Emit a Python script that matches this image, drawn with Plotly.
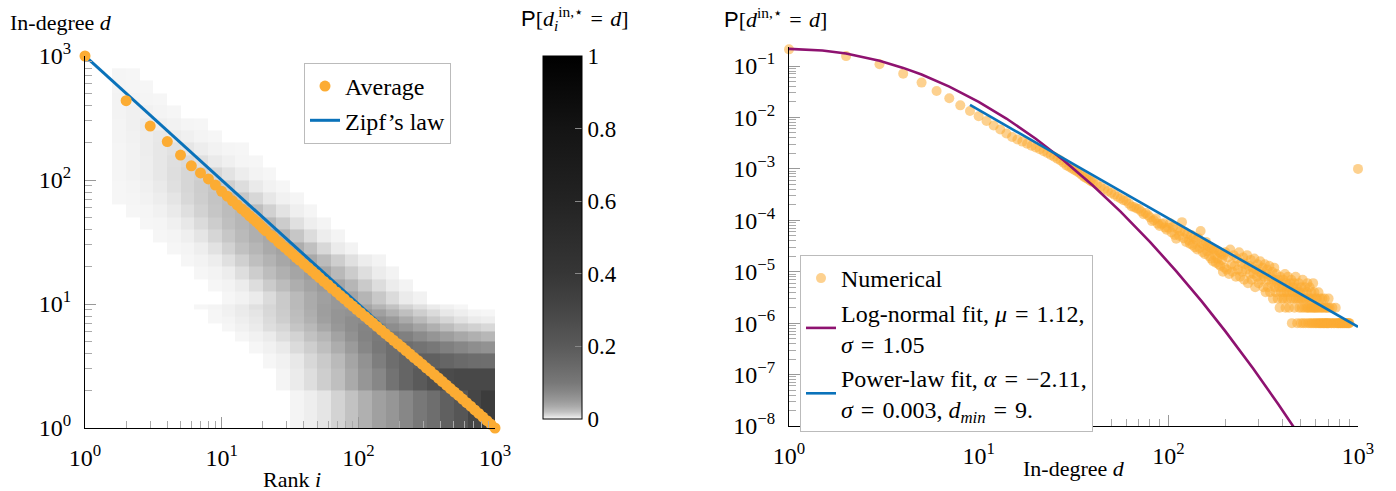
import plotly.graph_objects as go

# ================= LEFT PANEL DATA =================
avg_rank = [1, 2, 3, 4, 5, 6, 7, 8, 9, 10, 11, 12, 13, 14, 15, 16, 17, 18, 19,
            20, 21, 23, 24, 26, 27, 29, 31, 33, 35, 37, 40, 43, 46, 49, 52, 56, 60, 64,
            69, 74, 79, 85, 91, 97, 104, 112, 120, 128, 137, 147, 158, 169, 181, 194,
            208, 223, 239, 256, 274, 293, 314, 336, 360, 385, 412, 441, 472, 505, 541,
            579, 620, 664, 711, 761, 815, 873, 935, 1000]
avg_degree = [1000, 436, 272, 204, 159, 130, 114, 102, 91, 81, 74, 68, 63, 58.5, 55, 51.5,
              48.5, 46, 43.5,
              41.0, 39.0, 35.7, 34.3, 31.7, 30.6, 28.6, 26.8, 25.2, 23.8, 22.6, 20.95, 19.6,
              18.4, 17.3, 16.35, 15.2, 14.3, 13.4, 12.5, 11.7, 11.0, 10.25, 9.63, 9.06, 8.5,
              7.94, 7.45, 7.02, 6.59, 6.17, 5.78, 5.43, 5.09, 4.78, 4.49, 4.21, 3.95, 3.70,
              3.48, 3.27, 3.06, 2.88, 2.69, 2.53, 2.37, 2.22, 2.08, 1.95, 1.83, 1.71, 1.60,
              1.50, 1.40, 1.31, 1.225, 1.145, 1.07, 1.0]
zipf_rank = [1, 1000]
zipf_degree = [1000, 1]

# heat map bin edges (rank columns, in-degree rows)
rank_edges = [1, 1.259, 1.585, 1.995, 2.512, 3.162, 3.981, 5.012, 6.310, 7.943, 10,
              12.59, 15.85, 19.95, 25.12, 31.62, 39.81, 50.12, 63.10, 79.43, 100,
              125.9, 158.5, 199.5, 251.2, 316.2, 398.1, 501.2, 631.0, 794.3, 1000]
degree_edges = [1, 2, 3, 4, 5, 6, 7, 8, 9, 10,
                12.59, 15.85, 19.95, 25.12, 31.62, 39.81, 50.12, 63.10, 79.43, 100,
                125.9, 158.5, 199.5, 251.2, 316.2, 398.1, 501.2, 631.0, 794.3, 1000]
# probability (percent) per cell, each row given from its first non-empty column
heat_start = [15, 14, 13, 12, 11, 10, 9, 9, 8,
              10, 9, 8, 7, 6, 5, 4, 3, 2, 2, 2, 2, 2, 2, 2, 2, 2, 2, 2]
heat_pct = [
    [0.1, 0.3, 0.6, 1.2, 1.9, 3.1, 4.4, 5.5, 7.5, 10, 13, 18, 22, 30, 36],
    [0.1, 0.4, 0.8, 1.4, 2.1, 3.5, 5.5, 7.5, 11.5, 16, 20, 25, 27.5, 29, 29, 29],
    [0.05, 0.2, 0.5, 1, 1.6, 2.4, 4, 6, 9, 13, 16, 18, 18, 16, 14.5, 13.5, 13],
    [0.05, 0.2, 0.45, 0.9, 1.4, 2.1, 3.3, 4.9, 7.5, 10, 13, 13, 11.5, 10, 8.6, 7.5, 6.6, 6],
    [0.05, 0.2, 0.4, 0.8, 1.2, 1.9, 2.7, 4.2, 6, 8.2, 9.6, 9.6, 8.6, 7, 5.7, 4.6, 3.7, 3.1, 2.6],
    [0.05, 0.2, 0.4, 0.8, 1.1, 1.8, 2.5, 3.7, 5.2, 6.7, 8, 8, 6.7, 5.5, 4.2, 3.1, 2.2, 1.6, 1.3, 1],
    [0.05, 0.1, 0.3, 0.5, 0.9, 1.4, 2.1, 3, 4.4, 5.7, 6.7, 7, 6.1, 5, 3.5, 2.4, 1.6, 1.1, 0.7, 0.4, 0.3],
    [0.05, 0.2, 0.4, 0.6, 1, 1.5, 2.2, 3.2, 4.6, 5.7, 6, 5.5, 4.4, 3.1, 2.1, 1.4, 0.9, 0.5, 0.3, 0.1, 0.05],
    [0.05, 0.1, 0.25, 0.45, 0.75, 1.1, 1.6, 2.4, 3.4, 4.6, 5.2, 4.9, 4, 2.8, 1.9, 1.2, 0.75, 0.4, 0.2, 0.05],
    [0.05, 0.15, 0.4, 0.9, 1.6, 2.4, 3.4, 4.4, 5.2, 4.1, 2.75, 1.65, 0.9, 0.4, 0.15],
    [0.05, 0.14, 0.38, 0.85, 1.55, 2.3, 3.2, 4.2, 5.0, 3.95, 2.65, 1.6, 0.85, 0.38, 0.14],
    [0.04, 0.13, 0.35, 0.8, 1.45, 2.2, 3.1, 4.0, 4.8, 3.8, 2.5, 1.5, 0.8, 0.37, 0.14],
    [0.04, 0.12, 0.33, 0.75, 1.35, 2.05, 2.9, 3.8, 4.5, 3.55, 2.35, 1.4, 0.75, 0.34, 0.13],
    [0.03, 0.1, 0.3, 0.68, 1.25, 1.95, 2.7, 3.5, 4.2, 3.3, 2.0, 1.0, 0.4, 0.12],
    [0.03, 0.09, 0.26, 0.6, 1.1, 1.7, 2.4, 3.15, 3.7, 2.9, 1.75, 0.88, 0.35, 0.1],
    [0.02, 0.08, 0.22, 0.5, 0.92, 1.45, 2.05, 2.7, 3.15, 2.5, 1.5, 0.75, 0.3, 0.09],
    [0.02, 0.07, 0.19, 0.42, 0.78, 1.25, 1.75, 2.3, 2.7, 2.15, 1.3, 0.65, 0.26, 0.08],
    [0.02, 0.06, 0.15, 0.33, 0.6, 1.0, 1.4, 1.85, 2.2, 1.7, 1.05, 0.53, 0.21, 0.06],
    [0.04, 0.1, 0.24, 0.45, 0.75, 1.1, 1.45, 1.75, 1.38, 0.85, 0.43, 0.17, 0.05],
    [0.06, 0.15, 0.3, 0.52, 0.8, 1.1, 1.3, 1.04, 0.65, 0.33, 0.13, 0.04],
    [0.07, 0.16, 0.3, 0.52, 0.78, 0.95, 0.76, 0.45, 0.22, 0.08, 0.03],
    [0.08, 0.17, 0.32, 0.52, 0.7, 0.55, 0.32, 0.16, 0.06, 0.02],
    [0.1, 0.2, 0.34, 0.5, 0.38, 0.22, 0.1, 0.04],
    [0.11, 0.22, 0.36, 0.28, 0.15, 0.06, 0.02],
    [0.12, 0.24, 0.2, 0.1, 0.04],
    [0.14, 0.13, 0.07, 0.03],
    [0.1, 0.07, 0.03],
    [0.06, 0.04],
]
cbar_ticks = [0, 0.2, 0.4, 0.6, 0.8, 1]
cbar_labels = ["0", "0.2", "0.4", "0.6", "0.8", "1"]

# ================= RIGHT PANEL DATA =================
num_deg_lo = list(range(1, 41)) + list(range(42, 100, 2))
num_p_lo = [0.211, 0.156, 0.108, 0.0711, 0.0476, 0.0327, 0.0236, 0.0172, 0.0134, 0.0106,
            0.00855, 0.00695, 0.00582, 0.00487, 0.00418,
            0.00372, 0.00339, 0.00309, 0.00282, 0.0026, 0.0024, 0.00221, 0.00204, 0.00186,
            0.00172, 0.00158, 0.00145, 0.00132, 0.00117, 0.0011, 0.00102, 0.00095, 0.00089,
            0.00083, 0.00076, 0.0007, 0.00066, 0.00062, 0.00058, 0.00055,
            0.0005, 0.000447, 0.000407, 0.000372, 0.000339, 0.000316, 0.000288, 0.000266,
            0.000245, 0.000238, 0.000211, 0.000186, 0.000182, 0.00017, 0.000166, 0.000148,
            0.000131, 0.000138, 0.000126, 0.000114, 0.0000965, 0.0001, 0.000108, 0.0000861,
            0.0000772, 0.0000843, 0.0000875, 0.0000721, 0.0000655]
# counts per million samples for larger in-degrees
num_deg_a = list(range(100, 200, 2))
num_cnt_a = [72, 88, 58, 75, 52, 44, 68, 50, 62, 92,
             45, 60, 38, 55, 41, 35, 52, 33, 46, 30,
             42, 27, 45, 29, 62, 36, 24, 33, 22, 38,
             25, 32, 20, 30, 18, 28, 16, 27, 21, 15,
             26, 18, 14, 24, 13, 22, 17, 10, 21, 12]
num_deg_b = list(range(200, 400, 3))
num_cnt_b = [24, 11, 19, 9, 27, 14, 10, 21, 13, 8,
             18, 11, 24, 8, 15, 10, 19, 7, 14, 11,
             21, 6, 13, 9, 17, 7, 12, 9, 18, 5,
             11, 8, 14, 6, 10, 16, 7, 9, 12, 5,
             8, 14, 4, 9, 11, 5, 7, 13, 4, 8,
             6, 10, 3, 7, 12, 5, 4, 9, 6, 3,
             7, 5, 2, 8, 4, 6, 3]
num_deg_c = list(range(400, 701, 3))
num_cnt_c = [5, 7, 3, 4, 9, 2, 6, 4, 3, 8, 5, 2, 4, 6, 3, 7, 1, 4, 5, 3, 6, 2, 4, 8, 3, 5, 1,
             4, 3, 6, 2,
             4, 3, 1, 5, 2, 3, 7, 1, 4, 2, 3, 5, 1, 3, 2, 4, 6, 2, 1, 3, 2, 5, 1, 3, 2, 4,
             1, 2, 3, 6, 1, 2, 4, 2, 1, 3,
             2, 1, 3, 0, 2, 1, 4, 2, 1, 0, 3, 1, 2, 1, 0, 2, 3, 1, 0, 2, 1, 1, 3, 0, 2, 1,
             0, 2, 1, 1, 0, 2, 1, 3]
num_deg_d = list(range(703, 902, 6))
num_cnt_d = [1, 2, 0, 1, 1, 2, 0, 1, 1, 0, 2, 1, 0, 1, 1, 1, 0, 1, 1, 0, 1, 1, 0, 1, 1, 0,
             1, 0, 1, 1, 0, 1, 1, 1]
outlier_deg = [1000]
outlier_p = [1e-3]

lognorm_deg = [1, 1.5, 2, 3, 4, 5, 7, 10, 14, 20, 28, 40, 56, 80, 110, 150, 200, 280, 380, 470]
lognorm_p = [0.2151, 0.2009, 0.1749, 0.1266, 0.0920, 0.06817, 0.03984, 0.02015, 0.009528,
             0.003853, 0.001475, 4.764e-4, 1.476e-4, 3.809e-5, 1.031e-5, 2.645e-6, 6.927e-7,
             1.312e-7, 2.654e-8, 8.29e-9]
power_deg = [9, 1000]
power_p = [0.0175, 8.5e-7]

# ================= BUILD =================
W, H = 1396, 491
SERIF = "Liberation Serif, Times New Roman, serif"
ORANGE = "#FCAC33"
BLUE = "#0A72BA"
PURPLE = "#8E1270"
EQ = "\u2004=\u2004"


def px_x(p):
    return p / W


def px_y(p):
    return 1 - p / H


ncols = len(rank_edges) - 1
z = []
for s, vals in zip(heat_start, heat_pct):
    row = [None] * ncols
    for k, v in enumerate(vals):
        row[s + k] = v / 100.0 if v > 0 else None
    z.append(row)

colorscale = [[0, "rgb(247,247,247)"], [0.005, "rgb(232,232,232)"], [0.01, "rgb(216,216,216)"],
              [0.02, "rgb(192,192,192)"], [0.035, "rgb(170,170,170)"], [0.05, "rgb(154,154,154)"],
              [0.075, "rgb(135,135,135)"], [0.1, "rgb(120,120,120)"], [0.15, "rgb(104,104,104)"],
              [0.2, "rgb(90,90,90)"], [0.3, "rgb(70,70,70)"], [0.4, "rgb(54,54,54)"],
              [0.6, "rgb(35,35,35)"], [0.8, "rgb(20,20,20)"], [1, "rgb(0,0,0)"]]

fig = go.Figure()
fig.add_trace(go.Heatmap(
    x=rank_edges, y=degree_edges, z=z, zmin=0, zmax=1, colorscale=colorscale,
    xaxis="x", yaxis="y", hoverinfo="skip", showlegend=False,
    colorbar=dict(x=px_x(543), xanchor="left", xpad=0, ypad=0,
                  y=px_y(419), yanchor="bottom", len=363, lenmode="pixels",
                  thickness=39, thicknessmode="pixels",
                  outlinecolor="black", outlinewidth=1,
                  tickvals=cbar_ticks, ticktext=cbar_labels,
                  ticks="inside", ticklen=7, tickcolor="#888", tickwidth=1,
                  tickfont=dict(family=SERIF, size=23, color="black")),
))
fig.add_trace(go.Scatter(x=zipf_rank, y=zipf_degree, mode="lines", name="Zipf’s law",
                         line=dict(color=BLUE, width=3), xaxis="x", yaxis="y",
                         legend="legend", legendrank=2))
fig.add_trace(go.Scatter(x=avg_rank, y=avg_degree, mode="markers", name="Average",
                         marker=dict(color=ORANGE, size=11), xaxis="x", yaxis="y",
                         cliponaxis=False, legend="legend", legendrank=1))

num_x = list(num_deg_lo)
num_y = list(num_p_lo)
for dd, cc in ((num_deg_a, num_cnt_a), (num_deg_b, num_cnt_b),
               (num_deg_c, num_cnt_c), (num_deg_d, num_cnt_d)):
    for d, c in zip(dd, cc):
        if c > 0:
            num_x.append(d)
            num_y.append(c * 1e-6)
num_x += outlier_deg
num_y += outlier_p

fig.add_trace(go.Scatter(x=num_x, y=num_y, mode="markers", name="Numerical",
                         marker=dict(color=ORANGE, size=10, opacity=0.55),
                         xaxis="x2", yaxis="y2", cliponaxis=False, legend="legend2",
                         legendrank=1))
fig.add_trace(go.Scatter(x=lognorm_deg, y=lognorm_p, mode="lines",
                         name="Log-normal fit, <i>μ</i>" + EQ + "1.12,<br><i>σ</i>" + EQ + "1.05",
                         line=dict(color=PURPLE, width=2.6), xaxis="x2", yaxis="y2",
                         legend="legend2", legendrank=2))
fig.add_trace(go.Scatter(x=power_deg, y=power_p, mode="lines",
                         name="Power-law fit, <i>α</i>" + EQ + "−2.11,<br><i>σ</i>" + EQ
                              + "0.003, <i>d<sub>min</sub></i>" + EQ + "9.",
                         line=dict(color=BLUE, width=2.6), xaxis="x2", yaxis="y2",
                         legend="legend2", legendrank=3))

minor_dec = [m * 10 ** k for k in range(0, 3) for m in range(2, 10)]
minor_neg = [m * 10.0 ** k for k in range(-8, -1) for m in range(2, 10)]


def axis_style(**kw):
    base = dict(type="log", showline=True, linecolor="black", linewidth=1.3,
                showgrid=False, zeroline=False, ticks="inside", ticklen=11,
                tickcolor="#999", tickwidth=1, ticklabelstandoff=8,
                tickfont=dict(family=SERIF, size=24, color="black"),
                minor=dict(ticks="inside", ticklen=7, tickcolor="#aaa", tickwidth=1,
                           showgrid=False))
    base.update(kw)
    return base


dec_vals = [1, 10, 100, 1000]
dec_text = ["10<sup>0</sup>", "10<sup>1</sup>", "10<sup>2</sup>", "10<sup>3</sup>"]
neg_vals = [1e-8, 1e-7, 1e-6, 1e-5, 1e-4, 1e-3, 1e-2, 1e-1]
neg_text = ["10<sup>−8</sup>", "10<sup>−7</sup>", "10<sup>−6</sup>", "10<sup>−5</sup>",
            "10<sup>−4</sup>", "10<sup>−3</sup>", "10<sup>−2</sup>", "10<sup>−1</sup>"]

xa = axis_style(domain=[px_x(85), px_x(495)], anchor="y", range=[0, 3],
                tickvals=dec_vals, ticktext=dec_text)
xa["minor"]["tickvals"] = minor_dec
ya = axis_style(domain=[px_y(428), px_y(56)], anchor="x", range=[0, 3],
                tickvals=dec_vals, ticktext=dec_text)
ya["minor"]["tickvals"] = minor_dec
xa2 = axis_style(domain=[px_x(789), px_x(1358)], anchor="y2", range=[0, 3],
                 tickvals=dec_vals, ticktext=dec_text)
xa2["minor"]["tickvals"] = minor_dec
ya2 = axis_style(domain=[px_y(426), px_y(47)], anchor="x2", range=[-8, -0.63],
                 tickvals=neg_vals, ticktext=neg_text)
ya2["minor"]["tickvals"] = minor_neg

ann_font = dict(family=SERIF, size=22, color="black")
P_SANS = "<span style=\"font-family:'Liberation Sans', Arial, sans-serif\">P</span>"
annotations = [
    dict(text="In-degree <i>d</i>", x=px_x(8), y=px_y(22), xanchor="left", yanchor="middle"),
    dict(text="Rank <i>i</i>", x=px_x(292), y=px_y(479), xanchor="center", yanchor="middle"),
    dict(text=P_SANS + "[<i>d</i><sub><i>i</i></sub><sup>in,⋆</sup>" + EQ + "<i>d</i>]",
         x=px_x(575), y=px_y(18), xanchor="center", yanchor="middle"),
    dict(text=P_SANS + "[<i>d</i><sup>in,⋆</sup>" + EQ + "<i>d</i>]",
         x=px_x(722), y=px_y(18), xanchor="left", yanchor="middle"),
    dict(text="In-degree <i>d</i>", x=px_x(1074), y=px_y(468), xanchor="center", yanchor="middle"),
]
for a in annotations:
    a.update(xref="paper", yref="paper", showarrow=False, font=ann_font)

leg_font = dict(family=SERIF, size=24, color="black")
fig.update_layout(
    width=W, height=H, autosize=False,
    margin=dict(l=0, r=0, t=0, b=0, pad=0, autoexpand=False),
    paper_bgcolor="white", plot_bgcolor="white",
    xaxis=xa, yaxis=ya, xaxis2=xa2, yaxis2=ya2,
    annotations=annotations,
    legend=dict(x=px_x(304), y=px_y(63), xanchor="left", yanchor="top",
                bordercolor="#bbb", borderwidth=1, bgcolor="white", font=leg_font,
                tracegroupgap=0, itemsizing="trace"),
    legend2=dict(x=px_x(800), y=px_y(255), xanchor="left", yanchor="top",
                 bordercolor="#bbb", borderwidth=1, bgcolor="white", font=leg_font,
                 tracegroupgap=0, itemsizing="trace"),
)

fig.write_html("out.html", config={"displayModeBar": False},
               post_script="document.body.style.margin='0';document.body.style.overflow='hidden';")
